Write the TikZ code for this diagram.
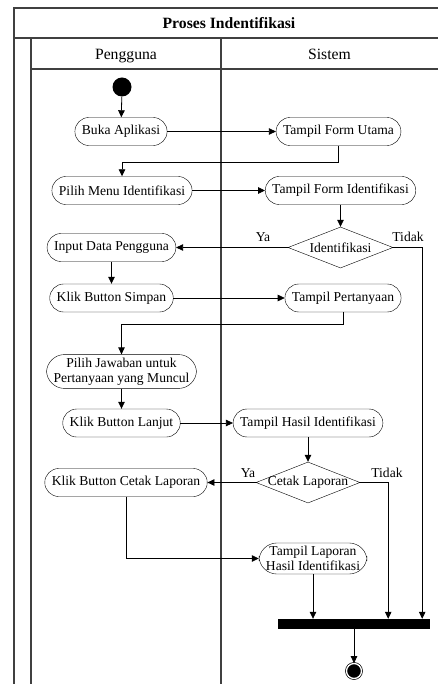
\documentclass[tikz,border=0pt]{standalone}
\usepackage{fontspec}
\setmainfont{Liberation Serif}
\usetikzlibrary{arrows.meta,positioning,shapes.geometric}
\newcommand{\actfont}{\fontsize{13.6}{15.5}\selectfont}
\newcommand{\headfont}{\fontsize{15.7}{18}\selectfont}

\begin{document}
\begin{tikzpicture}[
  x=1pt,y=-1pt,
  act/.style={draw,rounded corners=14pt,fill=white,align=center,minimum height=28pt,inner xsep=7pt,inner ysep=3pt,font=\actfont},
  decision/.style={draw,diamond,fill=white,inner sep=0pt,minimum width=105pt,minimum height=41pt,aspect=2.5},
  lbl/.style={font=\actfont,inner sep=0pt},
  head/.style={font=\headfont,anchor=base},
  lane/.style={line width=1.3pt,draw=black!75},
  arr/.style={-{Triangle[length=7pt,width=6.5pt]},line width=0.8pt}
]
\useasboundingbox (0,0) rectangle (438,684);
\draw[lane] (14,684) -- (14,8) -- (438,8);
\draw[lane] (14,38) -- (438,38);
\draw[lane] (31,69) -- (438,69);
\draw[lane] (31,38) -- (31,684);
\draw[lane] (221,38) -- (221,684);
\node[head,font=\headfont\bfseries] (title) at (229,29) {Proses Indentifikasi};
\node[head] (pengguna) at (126,60) {Pengguna};
\node[head] (sistem) at (329.5,60) {Sistem};

\node[circle,fill=black,minimum size=19pt,inner sep=0pt] (start) at (122,87) {};
\node[act] (buka) at (121,131.5) {Buka Aplikasi};
\node[act] (utama) at (338.5,131.5) {Tampil Form Utama};
\node[act] (menu) at (122,190.5) {Pilih Menu Identifikasi};
\node[act] (formid) at (340.5,190.5) {Tampil Form Identifikasi};
\node[decision,label={[lbl]center:Identifikasi}] (ident) at (340.5,247.5) {};
\node[act] (input) at (111.5,247.5) {Input Data Pengguna};
\node[act] (simpan) at (111.5,298) {Klik Button Simpan};
\node[act] (tanya) at (343,298) {Tampil Pertanyaan};
\node[act,rounded corners=18pt] (jawab) at (121.5,371.5) {Pilih Jawaban untuk\\Pertanyaan yang Muncul};
\node[act] (lanjut) at (121.5,423) {Klik Button Lanjut};
\node[act] (hasil) at (308,423) {Tampil Hasil Identifikasi};
\node[decision,minimum width=104pt,label={[lbl]center:Cetak Laporan}] (cetak) at (308,482.5) {};
\node[act] (klikcetak) at (126,482.5) {Klik Button Cetak Laporan};
\node[act,rounded corners=18pt] (lapor) at (313,558.5) {Tampil Laporan\\Hasil Identifikasi};
\node[fill=black,minimum width=152pt,minimum height=10pt,inner sep=0pt] (bar) at (354,624) {};
\node[circle,draw,fill=black,double,double distance=1.3pt,line width=0.7pt,minimum size=15pt,inner sep=0pt] (end) at (354,671) {};

\node[lbl] (ya1) at (263,237) {Ya};
\node[lbl] (tidak1) at (408,237) {Tidak};
\node[lbl] (ya2) at (248,473) {Ya};
\node[lbl] (tidak2) at (387,473) {Tidak};

\draw[arr] (start) -- (buka);
\draw[arr] (buka) -- (utama);
\draw[arr] (utama.south) -- ++(0,17) -| (menu.north);
\draw[arr] (menu) -- (formid);
\draw[arr] (formid) -- (ident);
\draw[arr] (ident.west) -- (input.east);
\draw[arr] (ident.east) -| ([xshift=-8pt]bar.north east);
\draw[arr] (input) -- (simpan);
\draw[arr] (simpan) -- (tanya);
\draw[arr] (tanya.south) -- ++(0,12) -| (jawab.north);
\draw[arr] (jawab) -- (lanjut);
\draw[arr] (lanjut) -- (hasil);
\draw[arr] (hasil) -- (cetak);
\draw[arr] (cetak.west) -- (klikcetak.east);
\draw[arr] (cetak.east) -| ([xshift=-42pt]bar.north east);
\draw[arr] (klikcetak.south) |- (lapor.west);
\draw[arr] (lapor.south) -- (lapor.south |- bar.north);
\draw[arr] (bar) -- (end);
\end{tikzpicture}
\end{document}
